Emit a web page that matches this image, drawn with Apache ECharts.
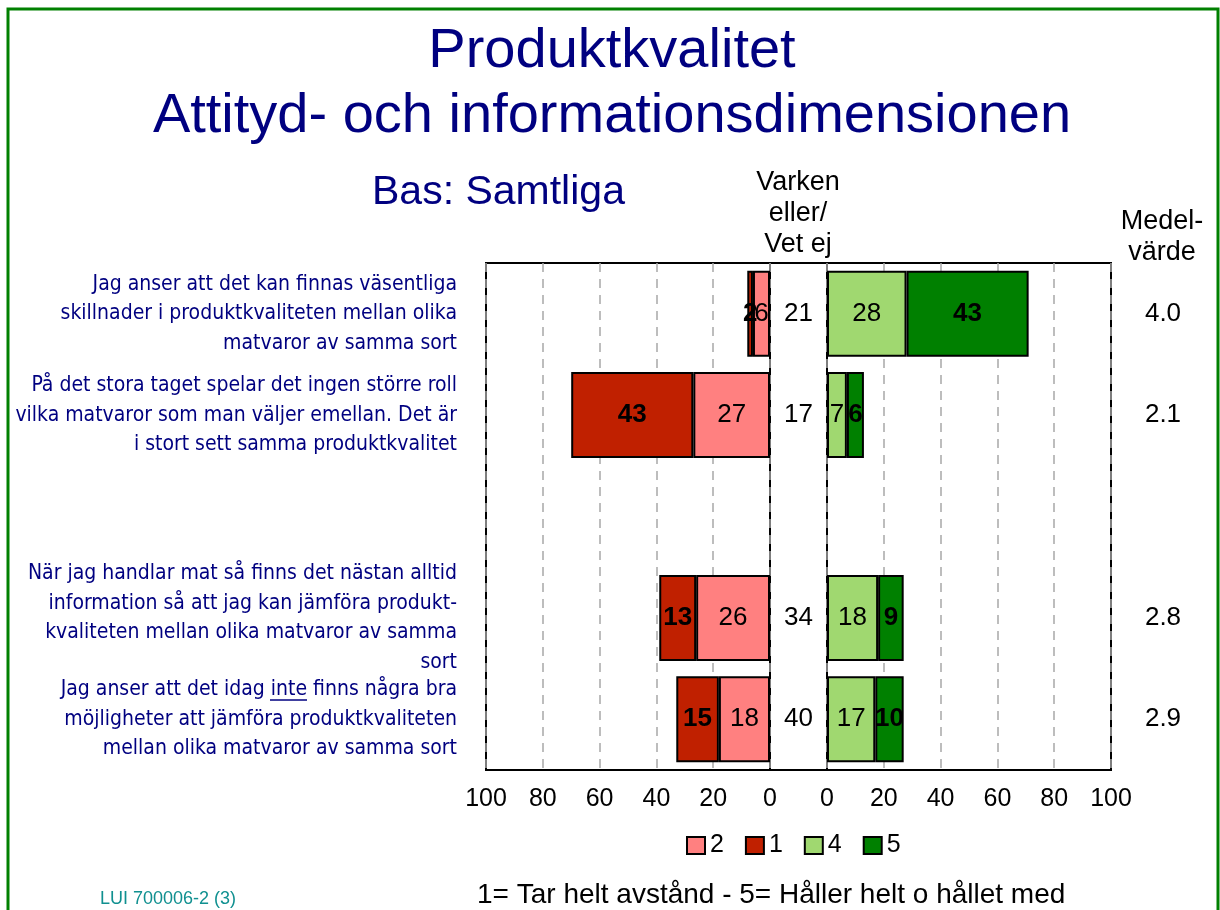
<!DOCTYPE html>
<html>
	<head>
		<meta charset="utf-8">
		<title>Produktkvalitet</title>
		<style type="text/css">
			html, body{
				margin: 0;
				padding: 0;
				background: #fff;
			}
			#chart{
				width: 1220px;
				height: 910px;
			}
		</style>
	</head>
	<body>
		<div id="chart"></div>

		<script src="https://cdn.jsdelivr.net/npm/echarts@6/dist/echarts.min.js"></script>
		<script>
			// 数据
			var categories = [
				'Jag anser att det kan finnas väsentliga\nskillnader i produktkvaliteten mellan olika\nmatvaror av samma sort',
				'På det stora taget spelar det ingen större roll\nvilka matvaror som man väljer emellan. Det är\ni stort sett samma produktkvalitet',
				'',
				'När jag handlar mat så finns det nästan alltid\ninformation så att jag kan jämföra produkt-\nkvaliteten mellan olika matvaror av samma\nsort',
				'Jag anser att det idag inte finns några bra\nmöjligheter att jämföra produktkvaliteten\nmellan olika matvaror av samma sort'
			];
			var val1 = [2, 43, null, 13, 15];
			var val2 = [6, 27, null, 26, 18];
			var neutral = [21, 17, null, 34, 40];
			var val4 = [28, 7, null, 18, 17];
			var val5 = [43, 6, null, 9, 10];
			var means = [4.0, 2.1, null, 2.8, 2.9];
			var axisMin = 0, axisMax = 100, axisStep = 20;
			var legendOrder = ['2', '1', '4', '5'];

			var navy = '#000080';
			var font = '"Liberation Sans", Arial, sans-serif';
			var narrow = '"DejaVu Sans Condensed", "Arial Narrow", sans-serif';

			var myChart = echarts.init(document.getElementById('chart'));

			function valueAxis(gridIndex, inverse){
				return {
					type: 'value',
					gridIndex: gridIndex,
					min: axisMin,
					max: axisMax,
					interval: axisStep,
					inverse: inverse,
					axisLine: { show: false },
					axisTick: { show: false },
					axisLabel: {
						color: '#000',
						fontSize: 25,
						fontFamily: font,
						margin: 17
					},
					splitLine: {
						show: true,
						lineStyle: { color: '#a8a8a8', width: 1.5, type: [9, 7] }
					}
				};
			}

			function hiddenX(gridIndex){
				return { type: 'value', gridIndex: gridIndex, min: 0, max: 1, show: false };
			}

			function catAxis(gridIndex, showLabel){
				return {
					type: 'category',
					gridIndex: gridIndex,
					data: categories,
					inverse: true,
					axisLine: { show: false },
					axisTick: { show: false },
					splitLine: { show: false },
					axisLabel: {
						show: showLabel,
						interval: 0,
						hideOverlap: false,
						color: navy,
						fontSize: 21,
						lineHeight: 29.5,
						fontFamily: narrow,
						align: 'right',
						margin: 29
					}
				};
			}

			function barSeries(name, data, color, xi, stack, bold){
				return {
					name: name,
					type: 'bar',
					xAxisIndex: xi,
					yAxisIndex: xi,
					stack: stack,
					barWidth: 86,
					data: data,
					itemStyle: { color: color, borderColor: '#000', borderWidth: 2 },
					label: {
						show: true,
						position: 'inside',
						color: '#000',
						fontSize: 26,
						fontFamily: font,
						fontWeight: bold ? 'bold' : 'normal'
					}
				};
			}

			function textSeries(values, idx, fmt, size){
				return {
					type: 'scatter',
					xAxisIndex: idx,
					yAxisIndex: idx,
					symbolSize: 1,
					itemStyle: { color: 'transparent', opacity: 1 },
					data: values.map(function(v, i){
						return v == null ? null : [0.5, i, v];
					}),
					label: {
						show: true,
						position: 'inside',
						color: '#000',
						opacity: 1,
						fontSize: size,
						fontFamily: font,
						formatter: function(p){ return fmt(p.value[2]); }
					}
				};
			}

			var gridTop = 263, gridHeight = 507;
			var border = { show: true, borderColor: '#000', borderWidth: 2, backgroundColor: '#fff', outerBoundsMode: 'none' };

			var option = {
				animation: false,
				backgroundColor: '#fff',
				grid: [
					Object.assign({ left: 486, width: 284, top: gridTop, height: gridHeight }, border),
					Object.assign({ left: 827, width: 284, top: gridTop, height: gridHeight }, border),
					Object.assign({ left: 770, width: 57, top: gridTop, height: gridHeight }, border),
					{ left: 1115, width: 96, top: gridTop, height: gridHeight, outerBoundsMode: 'none' }
				],
				xAxis: [valueAxis(0, true), valueAxis(1, false), hiddenX(2), hiddenX(3)],
				yAxis: [catAxis(0, true), catAxis(1, false), catAxis(2, false), catAxis(3, false)],
				legend: {
					data: legendOrder,
					left: 686,
					top: 833,
					padding: 0,
					itemWidth: 18,
					itemHeight: 17,
					itemGap: 21,
					icon: 'rect',
					textStyle: { color: '#000', fontSize: 25, fontFamily: font }
				},
				series: [
					barSeries('2', val2, '#FF8080', 0, 'L', false),
					barSeries('1', val1, '#C02000', 0, 'L', true),
					barSeries('4', val4, '#A0D870', 1, 'R', false),
					barSeries('5', val5, '#008000', 1, 'R', true),
					textSeries(neutral, 2, function(v){ return String(v); }, 26),
					textSeries(means, 3, function(v){ return v.toFixed(1); }, 26)
				],
				graphic: [
					{
						type: 'rect',
						shape: { x: 8, y: 9, width: 1210, height: 920 },
						style: { fill: 'none', stroke: '#008000', lineWidth: 3 },
						silent: true
					},
					{
						// “inte” 下划线
						type: 'line',
						shape: { x1: 270, y1: 700, x2: 307, y2: 700 },
						style: { stroke: navy, lineWidth: 1.5 },
						silent: true
					},
					{
						type: 'text',
						x: 612, y: 19,
						style: {
							text: 'Produktkvalitet\nAttityd- och informationsdimensionen',
							fill: navy, font: '56px ' + font,
							lineHeight: 65,
							align: 'center', verticalAlign: 'top'
						}
					},
					{
						type: 'text',
						x: 372, y: 172,
						style: { text: 'Bas: Samtliga', fill: navy, font: '41px ' + font, align: 'left', verticalAlign: 'top' }
					},
					{
						type: 'text',
						x: 798, y: 167,
						style: { text: 'Varken\neller/\nVet ej', fill: '#000', font: '27px ' + font, lineHeight: 31, align: 'center', verticalAlign: 'top' }
					},
					{
						type: 'text',
						x: 1162, y: 206,
						style: { text: 'Medel-\nvärde', fill: '#000', font: '27px ' + font, lineHeight: 31, align: 'center', verticalAlign: 'top' }
					},
					{
						type: 'text',
						x: 100, y: 890,
						style: { text: 'LUI 700006-2 (3)', fill: '#109090', font: '18px ' + font, align: 'left', verticalAlign: 'top' }
					},
					{
						type: 'text',
						x: 477, y: 881,
						style: { text: '1= Tar helt avstånd - 5= Håller helt o hållet med', fill: '#000', font: '28px ' + font, align: 'left', verticalAlign: 'top' }
					}
				]
			};

			myChart.setOption(option);
		</script>
	</body>
</html>
